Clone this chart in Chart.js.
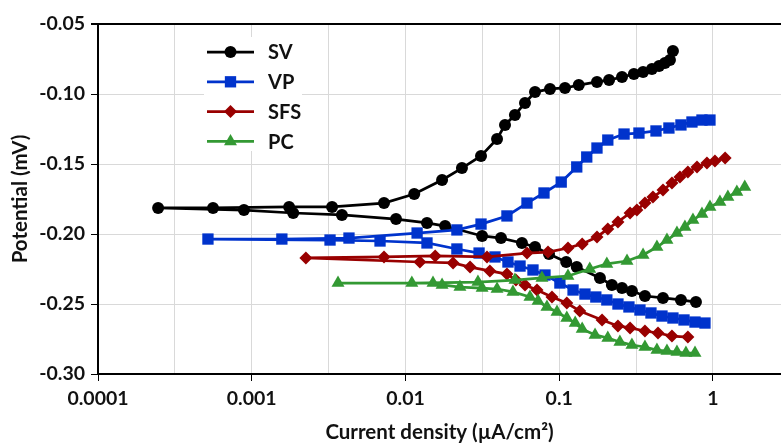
<!DOCTYPE html>
<html>
<head>
<meta charset="utf-8">
<script src="https://cdn.jsdelivr.net/npm/chart.js@4.4.1/dist/chart.umd.min.js"></script>
<style>
  html, body { margin: 0; padding: 0; background: #fff; overflow: hidden; }
  #wrap { width: 781px; height: 444px; position: relative; }
</style>
</head>
<body>
<div id="wrap"><canvas id="chart"></canvas></div>
<script>
// series names
const seriesNames = ["SV", "VP", "SFS", "PC"];

// current density (uA/cm2), ordered cathodic tail -> Ecorr -> anodic tail
const svCurrent = [0.775, 0.619, 0.473, 0.361, 0.297, 0.256, 0.220, 0.184, 0.130, 0.111, 0.0858, 0.0696, 0.0572, 0.0418, 0.0315, 0.0181, 0.0138, 0.00868, 0.00386, 0.00186, 0.00089,
  0.000246,
  0.00056, 0.00175, 0.00333, 0.00725, 0.0114, 0.0173, 0.0233, 0.031, 0.0394, 0.0444, 0.0515, 0.0599, 0.0696, 0.0871, 0.109, 0.134, 0.176, 0.211, 0.256, 0.306, 0.351, 0.401, 0.446, 0.487, 0.525, 0.549];
const svPotential = [-0.2486, -0.2471, -0.2457, -0.2443, -0.2407, -0.2386, -0.2364, -0.2314, -0.2236, -0.22, -0.2143, -0.2093, -0.2064, -0.2029, -0.2014, -0.1943, -0.1921, -0.1893, -0.1864, -0.185, -0.1829,
  -0.1814,
  -0.1814, -0.1807, -0.1807, -0.1779, -0.1714, -0.1614, -0.1529, -0.1443, -0.1321, -0.1221, -0.115, -0.1064, -0.0986, -0.0964, -0.0957, -0.0936, -0.0914, -0.09, -0.0879, -0.0857, -0.0843, -0.0821, -0.08, -0.0779, -0.0757, -0.0693];

const vpCurrent = [0.887, 0.764, 0.648, 0.549, 0.466, 0.395, 0.335, 0.284, 0.241, 0.204, 0.173, 0.147, 0.123, 0.101, 0.0808, 0.0675, 0.0556, 0.0464, 0.0382, 0.0301, 0.0216, 0.0138, 0.00683, 0.00323,
  0.000519,
  0.00157, 0.00429, 0.0119, 0.0216, 0.031, 0.0457, 0.0617, 0.0796, 0.103, 0.13, 0.151, 0.176, 0.207, 0.264, 0.33, 0.426, 0.517, 0.619, 0.73, 0.848, 0.956];
const vpPotential = [-0.2636, -0.2629, -0.2614, -0.26, -0.2586, -0.2564, -0.2543, -0.2521, -0.25, -0.2471, -0.245, -0.2429, -0.24, -0.235, -0.2293, -0.2257, -0.2229, -0.22, -0.2164, -0.2136, -0.2107, -0.2064, -0.205, -0.2043,
  -0.2036,
  -0.2036, -0.2029, -0.1993, -0.1971, -0.1929, -0.1871, -0.1779, -0.1707, -0.1629, -0.1521, -0.145, -0.1386, -0.1329, -0.1286, -0.1279, -0.1264, -0.1243, -0.1221, -0.12, -0.1186, -0.1186];

const sfsCurrent = [0.687, 0.541, 0.439, 0.361, 0.289, 0.241, 0.19, 0.136, 0.112, 0.0897, 0.0717, 0.0599, 0.0523, 0.0457, 0.0354, 0.0263, 0.0204, 0.0124,
  0.00225,
  0.00725, 0.0156, 0.0339, 0.0617, 0.0845, 0.114, 0.141, 0.176, 0.207, 0.241, 0.289, 0.32, 0.361, 0.407, 0.473, 0.541, 0.61, 0.687, 0.787, 0.914, 1.03, 1.2];
const sfsPotential = [-0.2736, -0.2729, -0.2707, -0.2693, -0.2671, -0.2657, -0.2614, -0.255, -0.2493, -0.245, -0.24, -0.2364, -0.2329, -0.2286, -0.2264, -0.2236, -0.2207, -0.22,
  -0.2171,
  -0.2164, -0.2157, -0.2164, -0.2136, -0.2129, -0.21, -0.2071, -0.2021, -0.1964, -0.1914, -0.185, -0.1829, -0.1779, -0.1736, -0.1686, -0.1636, -0.1593, -0.1557, -0.1521, -0.1493, -0.1479, -0.1457];

const pcCurrent = [0.764, 0.667, 0.583, 0.502, 0.432, 0.361, 0.297, 0.248, 0.207, 0.171, 0.141, 0.127, 0.112, 0.0967, 0.0832, 0.0728, 0.0645, 0.05, 0.0394, 0.0315, 0.0226, 0.0173, 0.0151,
  0.00364,
  0.011, 0.0296, 0.0515, 0.0772, 0.114, 0.158, 0.204, 0.276, 0.351, 0.432, 0.502, 0.583, 0.657, 0.741, 0.848, 0.956, 1.11, 1.25, 1.43, 1.61];
const pcPotential = [-0.285, -0.285, -0.2843, -0.2836, -0.2829, -0.2807, -0.2793, -0.2771, -0.2743, -0.2721, -0.2679, -0.2636, -0.26, -0.2557, -0.2521, -0.2479, -0.245, -0.2414, -0.2393, -0.2386, -0.2379, -0.2364, -0.235,
  -0.235,
  -0.235, -0.2343, -0.2329, -0.2314, -0.23, -0.225, -0.2214, -0.2193, -0.215, -0.2093, -0.2043, -0.1993, -0.195, -0.19, -0.1857, -0.1807, -0.1771, -0.1736, -0.17, -0.1664];

// axis ticks
const xDecades = [0.0001, 0.001, 0.01, 0.1, 1];
const xTickLabels = ["0.0001", "0.001", "0.01", "0.1", "1"];
const xMax = 2.77; // the picture is cut off a bit past 1
const yTicks = [-0.30, -0.25, -0.20, -0.15, -0.10, -0.05];

const FONT = "Lato, 'Open Sans', sans-serif";
const styles = [
  { color: "#000000", point: "circle", radius: 6 },
  { color: "#0033CC", point: "rect", radius: 8 },
  { color: "#990000", point: "rectRot", radius: 6.5 },
  { color: "#339933", point: "triangle", radius: 7.5 },
];

const toPoints = (xs, ys) => xs.map((x, i) => ({ x: x, y: ys[i] }));
const seriesData = [
  toPoints(svCurrent, svPotential),
  toPoints(vpCurrent, vpPotential),
  toPoints(sfsCurrent, sfsPotential),
  toPoints(pcCurrent, pcPotential),
];

// gridlines every half decade, labels only on decades, plus an unlabeled tick at the max
const xGridValues = [];
xDecades.forEach((d, i) => {
  xGridValues.push(d);
  if (i < xDecades.length - 1) xGridValues.push(Math.sqrt(d * xDecades[i + 1]));
});
xGridValues.push(xMax);
const lastX = xGridValues.length - 1;

function drawMarker(ctx, style, x, y, r) {
  ctx.beginPath();
  if (style === "circle") {
    ctx.arc(x, y, r, 0, Math.PI * 2);
  } else if (style === "rect") {
    const s = r * Math.SQRT1_2;
    ctx.rect(x - s, y - s, 2 * s, 2 * s);
  } else if (style === "rectRot") {
    ctx.moveTo(x - r, y); ctx.lineTo(x, y - r); ctx.lineTo(x + r, y); ctx.lineTo(x, y + r);
    ctx.closePath();
  } else {
    ctx.moveTo(x, y - r);
    ctx.lineTo(x + r * 0.866, y + r * 0.5);
    ctx.lineTo(x - r * 0.866, y + r * 0.5);
    ctx.closePath();
  }
  ctx.fill();
}

// legend sits inside the plot on a white box
const insideLegend = {
  id: "insideLegend",
  afterDraw(chart) {
    const ctx = chart.ctx;
    ctx.save();
    ctx.fillStyle = "#fff";
    ctx.fillRect(204, 37, 98, 114);
    seriesNames.forEach((name, i) => {
      const st = styles[i];
      const y = 52 + i * 29.8;
      ctx.strokeStyle = st.color;
      ctx.fillStyle = st.color;
      ctx.lineWidth = 2.75;
      ctx.beginPath();
      ctx.moveTo(207, y);
      ctx.lineTo(254, y);
      ctx.stroke();
      drawMarker(ctx, st.point, 230.5, y, st.radius);
      ctx.fillStyle = "#111";
      ctx.font = "bold 20px " + FONT;
      ctx.textBaseline = "middle";
      ctx.textAlign = "left";
      ctx.fillText(name, 268, y + 1);
    });
    ctx.restore();
  },
};

new Chart(document.getElementById("chart"), {
  type: "scatter",
  data: {
    datasets: seriesData.map((pts, i) => ({
      label: seriesNames[i],
      data: pts,
      showLine: true,
      borderColor: styles[i].color,
      backgroundColor: styles[i].color,
      borderWidth: 2.75,
      pointStyle: styles[i].point,
      pointRadius: styles[i].radius,
      pointBorderWidth: 0,
      pointBackgroundColor: styles[i].color,
      order: 3 - i,
    })),
  },
  options: {
    responsive: true,
    maintainAspectRatio: false,
    animation: false,
    layout: { autoPadding: false, padding: { top: 24, right: 0, bottom: 0, left: 0 } },
    plugins: {
      legend: { display: false },
      tooltip: { enabled: false },
    },
    scales: {
      x: {
        type: "logarithmic",
        min: 0.0001,
        max: xMax,
        afterBuildTicks: (scale) => {
          scale.ticks = xGridValues.map((v) => ({ value: v }));
        },
        afterFit: (scale) => {
          scale.height = 70;
          scale.paddingRight = 0;
        },
        ticks: {
          autoSkip: false,
          maxRotation: 0,
          padding: 6,
          color: "#111",
          font: { family: FONT, size: 19.5, weight: "bold" },
          callback: (value, index) => (index % 2 === 0 && index < lastX ? xTickLabels[index / 2] : ""),
        },
        grid: {
          color: (ctx) => (ctx.index === lastX ? "rgba(0,0,0,0)" : "#d9d9d9"),
          lineWidth: 1,
          tickLength: 7,
          tickColor: (ctx) => (ctx.index % 2 === 0 && ctx.index < lastX ? "#000" : "rgba(0,0,0,0)"),
        },
        border: { color: "#000", width: 2 },
        title: {
          display: true,
          text: "Current density (\u00b5A/cm\u00b2)",
          color: "#111",
          font: { family: FONT, size: 20.5, weight: "bold" },
          padding: { top: 0, bottom: -1 },
        },
      },
      y: {
        type: "linear",
        min: -0.30,
        max: -0.05,
        afterBuildTicks: (scale) => {
          scale.ticks = yTicks.map((v) => ({ value: v }));
        },
        afterFit: (scale) => { scale.width = 98; },
        ticks: {
          padding: 6,
          color: "#111",
          font: { family: FONT, size: 19.5, weight: "bold" },
          callback: (value) => value.toFixed(2),
        },
        grid: {
          color: (ctx) => (ctx.tick && Math.abs(ctx.tick.value + 0.05) < 1e-6 ? "#000" : "#d9d9d9"),
          lineWidth: (ctx) => (ctx.tick && Math.abs(ctx.tick.value + 0.05) < 1e-6 ? 2 : 1),
          tickLength: 7,
          tickColor: "#000",
        },
        border: { color: "#000", width: 2 },
        title: {
          display: true,
          text: "Potential (mV)",
          color: "#111",
          font: { family: FONT, size: 20.5, weight: "bold" },
          padding: { top: 8, bottom: 0 },
        },
      },
    },
  },
  plugins: [insideLegend],
});
</script>
</body>
</html>
